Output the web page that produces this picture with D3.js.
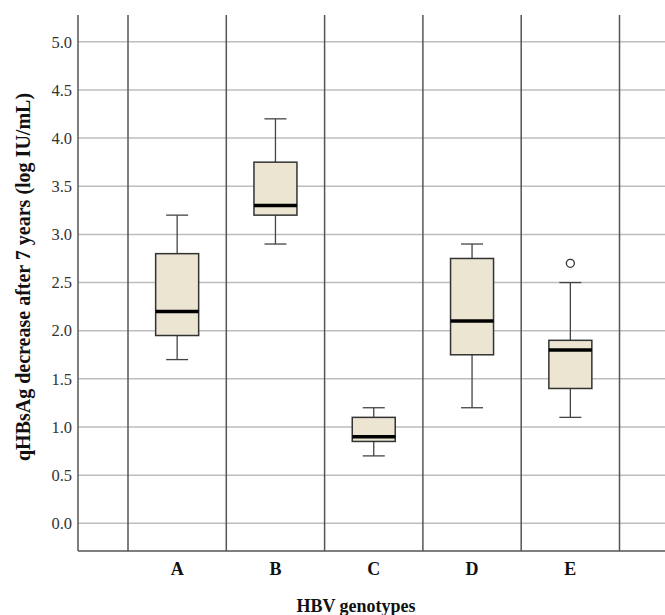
<!DOCTYPE html>
<html>
<head>
<meta charset="utf-8">
<script src="https://cdn.jsdelivr.net/npm/d3@7"></script>
<style>
  html, body { margin: 0; padding: 0; background: #fff; }
  svg { display: block; }
</style>
</head>
<body>
<div id="chart"></div>
<script>
// genotype groups and their box statistics (log IU/mL)
const genotypes = ['A', 'B', 'C', 'D', 'E'];
const whiskerLow = [1.7, 2.9, 0.7, 1.2, 1.1];
const q1 = [1.95, 3.2, 0.85, 1.75, 1.4];
const median = [2.2, 3.3, 0.9, 2.1, 1.8];
const q3 = [2.8, 3.75, 1.1, 2.75, 1.9];
const whiskerHigh = [3.2, 4.2, 1.2, 2.9, 2.5];
const outliers = [[], [], [], [], [2.7]];
const yTicks = [0.0, 0.5, 1.0, 1.5, 2.0, 2.5, 3.0, 3.5, 4.0, 4.5, 5.0];

const width = 665, height = 615;
const serif = 'Liberation Serif';

const svg = d3.select('#chart')
    .append('svg')
    .attr('width', width)
    .attr('height', height)
    .attr('font-family', serif);

// x is a slot index: genotypes at 1..5, separators at the half steps
const x = d3.scaleLinear().domain([0.5, 5.5]).range([128, 619.5]);
const y = d3.scaleLinear().domain([0, 5]).range([523.3, 41.8]);
const xLeft = 78, yBottom = 551, yTop = 15;

// horizontal gridlines
svg.append('g')
    .selectAll('line')
    .data(yTicks)
    .join('line')
    .attr('x1', xLeft).attr('x2', width)
    .attr('y1', d => y(d)).attr('y2', d => y(d))
    .attr('stroke', '#bdbdbd')
    .attr('stroke-width', 1.5);

// vertical separators between genotypes
svg.append('g')
    .selectAll('line')
    .data(d3.range(0.5, 6, 1))
    .join('line')
    .attr('x1', d => x(d)).attr('x2', d => x(d))
    .attr('y1', yTop).attr('y2', yBottom)
    .attr('stroke', '#555')
    .attr('stroke-width', 1.5);

// y axis with tick labels
const yAxis = svg.append('g')
    .attr('transform', 'translate(' + xLeft + ',0)')
    .call(d3.axisLeft(y).tickValues(yTicks).tickSize(0).tickPadding(6).tickFormat(d3.format('.1f')));
yAxis.select('.domain').remove();
yAxis.attr('font-family', serif).attr('font-size', 16.5);
yAxis.selectAll('text')
    .attr('font-family', serif)
    .attr('font-size', 16.5)
    .attr('fill', '#333');

// axis frame lines (left and bottom)
svg.append('line')
    .attr('x1', xLeft).attr('x2', xLeft)
    .attr('y1', yTop).attr('y2', yBottom)
    .attr('stroke', '#555').attr('stroke-width', 1.5);
svg.append('line')
    .attr('x1', xLeft).attr('x2', width)
    .attr('y1', yBottom).attr('y2', yBottom)
    .attr('stroke', '#555').attr('stroke-width', 1.5);

// boxes
const boxW = 43, capW = 22;
const rows = genotypes.map((g, i) => ({
    g: g, cx: x(i + 1),
    lo: whiskerLow[i], q1: q1[i], med: median[i], q3: q3[i], hi: whiskerHigh[i],
    out: outliers[i]
}));

const box = svg.append('g')
    .selectAll('g')
    .data(rows)
    .join('g');

// whisker stems
box.append('line')
    .attr('x1', d => d.cx).attr('x2', d => d.cx)
    .attr('y1', d => y(d.hi)).attr('y2', d => y(d.q3))
    .attr('stroke', '#444').attr('stroke-width', 1.3);
box.append('line')
    .attr('x1', d => d.cx).attr('x2', d => d.cx)
    .attr('y1', d => y(d.q1)).attr('y2', d => y(d.lo))
    .attr('stroke', '#444').attr('stroke-width', 1.3);
// caps
box.selectAll('.cap')
    .data(d => [{ cx: d.cx, v: d.hi }, { cx: d.cx, v: d.lo }])
    .join('line')
    .attr('class', 'cap')
    .attr('x1', d => d.cx - capW / 2).attr('x2', d => d.cx + capW / 2)
    .attr('y1', d => y(d.v)).attr('y2', d => y(d.v))
    .attr('stroke', '#444').attr('stroke-width', 1.3);
// box body
box.append('rect')
    .attr('x', d => d.cx - boxW / 2)
    .attr('y', d => y(d.q3))
    .attr('width', boxW)
    .attr('height', d => y(d.q1) - y(d.q3))
    .attr('fill', '#ebe5d2')
    .attr('stroke', '#333')
    .attr('stroke-width', 1.5);
// median
box.append('line')
    .attr('x1', d => d.cx - boxW / 2).attr('x2', d => d.cx + boxW / 2)
    .attr('y1', d => y(d.med)).attr('y2', d => y(d.med))
    .attr('stroke', '#000').attr('stroke-width', 3.5);
// outliers
box.selectAll('circle')
    .data(d => d.out.map(v => ({ cx: d.cx, v: v })))
    .join('circle')
    .attr('cx', d => d.cx).attr('cy', d => y(d.v))
    .attr('r', 4)
    .attr('fill', '#fff')
    .attr('stroke', '#333')
    .attr('stroke-width', 1.3);

// genotype labels
svg.append('g')
    .selectAll('text')
    .data(rows)
    .join('text')
    .attr('x', d => d.cx)
    .attr('y', 575)
    .attr('text-anchor', 'middle')
    .attr('font-family', serif)
    .attr('font-weight', 'bold')
    .attr('font-size', 18)
    .attr('fill', '#111')
    .text(d => d.g);

// axis titles
svg.append('text')
    .attr('x', 356).attr('y', 612)
    .attr('text-anchor', 'middle')
    .attr('font-family', serif)
    .attr('font-weight', 'bold')
    .attr('font-size', 18)
    .attr('fill', '#111')
    .text('HBV genotypes');

svg.append('text')
    .attr('transform', 'translate(30,277) rotate(-90)')
    .attr('text-anchor', 'middle')
    .attr('font-family', serif)
    .attr('font-weight', 'bold')
    .attr('font-size', 20)
    .attr('fill', '#111')
    .text('qHBsAg decrease after 7 years (log IU/mL)');
</script>
</body>
</html>
